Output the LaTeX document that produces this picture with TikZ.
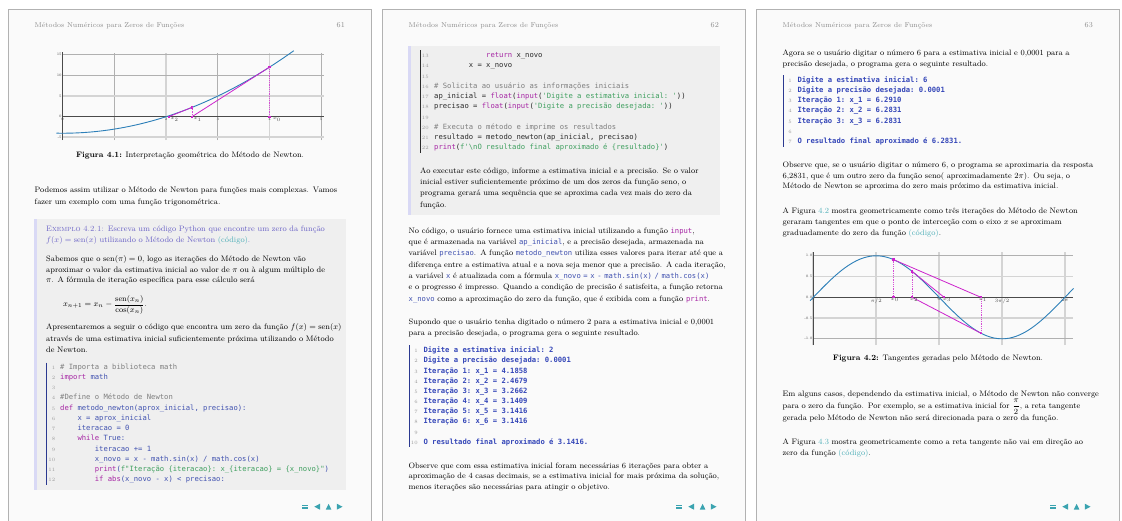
\documentclass[tikz,border=0pt]{standalone}
\usepackage{amsmath}
\usepackage{fontspec}
\IfFontExistsTF{DejaVu Sans Mono}{\newfontfamily\codefont{DejaVu Sans Mono}}{\newfontfamily\codefont{Liberation Mono}}

\definecolor{framegray}{HTML}{B2B2B2}
\definecolor{pagefill}{HTML}{FAFAFA}
\definecolor{boxfill}{HTML}{EFEFEF}
\definecolor{boxbar}{HTML}{D9D9F5}
\definecolor{headgray}{HTML}{8C8C8C}
\definecolor{linkteal}{HTML}{4FAFB8}
\definecolor{exblue}{HTML}{6A62C6}
\definecolor{kwcol}{HTML}{A626A4}
\definecolor{nmcol}{HTML}{4152B0}
\definecolor{strcol}{HTML}{3F9F5F}
\definecolor{comcol}{HTML}{7F7F7F}
\definecolor{codedark}{HTML}{2B2B2B}
\definecolor{outblue}{HTML}{3446B8}
\definecolor{barblue}{HTML}{2B3990}
\definecolor{lnogray}{HTML}{9A9A9A}
\definecolor{curveblue}{HTML}{2C7FB8}
\definecolor{magcol}{HTML}{CC22CC}
\definecolor{gridgray}{HTML}{B0B0B0}
\definecolor{gridlight}{HTML}{D4D4D4}
\definecolor{axisgray}{HTML}{4A4A4A}
\definecolor{navteal}{HTML}{3AA3B0}

\newcommand\pykw[1]{\textcolor{kwcol}{#1}}
\newcommand\pystr[1]{\textcolor{strcol}{#1}}
\newcommand\pycom[1]{\textcolor{comcol}{#1}}
\newcommand\tealtext[1]{\textcolor{linkteal}{#1}}
\newcommand\icode[2]{{\codefont\fontsize{7.2}{9}\selectfont\textcolor{#1}{#2}}}
% one justified line / one last line of a paragraph
\newcommand\fullln[1]{\hbox to\hsize{#1}}
\newcommand\lastln[1]{\hbox to\hsize{#1\hfil}}
\hbadness=10000
\hfuzz=30pt
\thickmuskip=5mu
\medmuskip=4mu

\begin{document}
\begin{tikzpicture}[x=1pt, y=-1pt,
  pageframe/.style={draw=framegray, line width=1.6pt, fill=pagefill},
  headtext/.style={inner sep=0pt, text=headgray, font=\fontsize{7}{8}\selectfont},
  pagenum/.style={inner sep=0pt, text=headgray, font=\fontsize{7.6}{8}\selectfont},
  para/.style={anchor=base west, inner sep=0pt, text width=310.5pt, font=\fontsize{7.9}{#1}\selectfont},
  boxpara/.style={para={#1}, text width=290.7pt},
  exbox/.style={fill=boxfill},
  exstripe/.style={fill=boxbar},
  codeln/.style={anchor=base west, inner sep=0pt, font=\codefont\fontsize{7.2}{9}\selectfont\frenchspacing},
  outln/.style={codeln, text=outblue, font=\codefont\bfseries\fontsize{7.2}{9}\selectfont\frenchspacing},
  lineno/.style={anchor=base east, inner sep=0pt, text=lnogray, font=\fontsize{5}{6}\selectfont},
  codebar/.style={line width=1.3pt},
  caption/.style={anchor=base, inner sep=0pt, font=\fontsize{7.9}{9}\selectfont},
  gridline/.style={draw=gridgray, line width=0.7pt},
  gridmajor/.style={draw=gridlight, line width=1.8pt},
  axisline/.style={draw=axisgray, line width=1.4pt},
  ticklabel/.style={inner sep=0.8pt, text=axisgray, font=\fontsize{3.6}{4}\selectfont},
  curve/.style={draw=curveblue, line width=0.9pt},
  tangent/.style={draw=magcol, line width=0.8pt},
  vguide/.style={draw=magcol!80, line width=0.8pt, densely dotted},
  dot/.style={rectangle, fill=magcol, inner sep=0pt, minimum size=2.2pt},
  navicon/.style={fill=navteal}
]
\path[use as bounding box, fill=white] (0,0) rectangle (1122,520);

% Pages, headers, navigation
\foreach \ox/\pg in {0/61,374/62,748/63}{
  \draw[pageframe] ({\ox+8.3},9.3) rectangle ({\ox+371.5},540);
  \node[headtext, anchor=base west] (head\pg) at ({\ox+34.5},27) {Métodos Numéricos para Zeros de Funções};
  \node[pagenum, anchor=base east] (num\pg) at ({\ox+345},27.5) {\pg};
  \fill[navicon] ({\ox+302},504.6) rectangle ({\ox+308},505.8);
  \fill[navicon] ({\ox+302},507.4) rectangle ({\ox+308},508.6);
  \fill[navicon] ({\ox+320},503.7) -- ({\ox+320},509.7) -- ({\ox+314.3},506.7) -- cycle;
  \fill[navicon] ({\ox+325.8},509.6) -- ({\ox+331.4},509.6) -- ({\ox+328.6},503.8) -- cycle;
  \fill[navicon] ({\ox+336.8},503.7) -- ({\ox+336.8},509.7) -- ({\ox+342.5},506.7) -- cycle;
}

% Page 61: plot of x^2-4
\begin{scope}[shift={(62.7pt,-116.7pt)}, x=51.7pt, y=4.13pt]
\foreach \gx in {1,3,5} \draw[gridline] (\gx,-5.7) -- (\gx,15.5);
\foreach \gx in {2,4} \draw[gridmajor] (\gx,-5.7) -- (\gx,15.5);
\foreach \gy in {10,15} \draw[gridline] (0,\gy) -- (5.05,\gy);
\foreach \gy in {-5,5} \draw[gridmajor] (0,\gy) -- (5.05,\gy);
\draw[axisline] (0,-5.7) -- (0,15.6);
\draw[axisline] (0,0) -- (5.05,0);
\foreach \gx [count=\i] in {0,...,5} \node[ticklabel, anchor=north] (fx\i) at (\gx,0) {\gx};
\foreach \gy [count=\i] in {-5,0,5,10,15} \node[ticklabel, anchor=east] (fy\i) at (0,\gy) {\gy};
\draw[curve, domain=-0.12:4.47, samples=80] plot (\x,{\x*\x-4});
\node[dot] (fa0) at (4,0) {};
\node[dot] (fb0) at (4,12) {};
\node[dot] (fa1) at (2.5,0) {};
\node[dot] (fb1) at (2.5,2.25) {};
\node[dot] (fa2) at (2.05,0) {};
\draw[vguide] (fa0.center) -- (fb0.center);
\draw[tangent] (fb0.center) -- (fa1.center);
\draw[vguide] (fa1.center) -- (fb1.center);
\draw[tangent] (fb1.center) -- (fa2.center);
\node[ticklabel, anchor=north west] (fl0) at ([xshift=2.5pt]fa0.center) {$x_0$};
\node[ticklabel, anchor=north west] (fl1) at ([xshift=0.8pt]fa1.center) {$x_1$};
\node[ticklabel, anchor=north west] (fl2) at ([xshift=1pt]fa2.center) {$x_2$};
\end{scope}
\node[caption] (cap41) at (190,157) {\textbf{Figura 4.1:} Interpretação geométrica do Método de Newton.};

% Page 61: text and example
\node[para=12] (podemos) at (34.5,192.7) {
\fullln{Podemos assim utilizar o Método de Newton para funções mais complexas. Vamos}
\lastln{fazer um exemplo com uma função trigonométrica.}};
\fill[exbox] (34.3,219.3) rectangle (345.7,490);
\fill[exstripe] (34.3,219.3) rectangle (37.2,490);
\node[boxpara=10.7, text=exblue] (extitle) at (46,231.3) {
\fullln{\textsc{Exemplo 4.2.1:} Escreva um código Python que encontre um zero da função}
\lastln{$f(x) = \operatorname{sen}(x)$ utilizando o Método de Newton \tealtext{(código)}.}};
\node[boxpara=10.7] (sabemos) at (46,261.3) {
\fullln{Sabemos que o $\operatorname{sen}(\pi) = 0$, logo as iterações do Método de Newton vão}
\fullln{aproximar o valor da estimativa inicial ao valor de $\pi$ ou à algum múltiplo de}
\lastln{$\pi$. A fórmula de iteração específica para esse cálculo será}};
\node[anchor=west, inner sep=0pt, font=\fontsize{7.9}{10}\selectfont] (iterfor) at (63,305)
  {$x_{n+1} = x_n - \dfrac{\operatorname{sen}(x_n)}{\cos(x_n)}.$};
\node[boxpara=11.7] (apresent) at (46,329.3) {
\fullln{Apresentaremos a seguir o código que encontra um zero da função $f(x) = \operatorname{sen}(x)$}
\fullln{através de uma estimativa inicial suficientemente próxima utilizando o Método}
\lastln{de Newton.}};
\draw[codebar, draw=barblue] (46.7,362.7) -- (46.7,485);
\foreach \txt [count=\k] in {
  {\pycom{\# Importa a biblioteca math}},
  {\pykw{import} math},
  {},
  {\pycom{\#Define o Método de Newton}},
  {\pykw{def} metodo\_newton(aprox\_inicial, precisao):},
  {\phantom{xxxx}x = aprox\_inicial},
  {\phantom{xxxx}iteracao = 0},
  {\phantom{xxxx}\pykw{while} True:},
  {\phantom{xxxxxxxx}iteracao += 1},
  {\phantom{xxxxxxxx}x\_novo = x - math.sin(x) / math.cos(x)},
  {\phantom{xxxxxxxx}\pykw{print}(\pystr{f"Iteração \{iteracao\}: x\_\{iteracao\} = \{x\_novo\}"})},
  {\phantom{xxxxxxxx}\pykw{if} \pykw{abs}(x\_novo - x) < precisao:}}{
  \node[lineno] (na\k) at (55.5,{369.3+10.22*(\k-1)}) {\k};
  \node[codeln, text=nmcol] (ca\k) at (60,{369.3+10.22*(\k-1)}) {\txt};
}

% Page 62
\fill[exbox] (408.3,45.7) rectangle (719.7,215);
\fill[exstripe] (408.3,45.7) rectangle (411.2,215);
\draw[codebar, draw=codedark] (420.7,50) -- (420.7,152.7);
\foreach \txt [count=\k from 13] in {
  {\phantom{xxxxxxxxxxxx}\pykw{return} x\_novo},
  {\phantom{xxxxxxxx}x = x\_novo},
  {},
  {\pycom{\# Solicita ao usuário as informações iniciais}},
  {ap\_inicial = \pykw{float}(\pykw{input}(\pystr{'Digite a estimativa inicial: '}))},
  {precisao = \pykw{float}(\pykw{input}(\pystr{'Digite a precisão desejada: '}))},
  {},
  {\pycom{\# Executa o método e imprime os resultados}},
  {resultado = metodo\_newton(ap\_inicial, precisao)},
  {\pykw{print}(\pystr{f'\textbackslash nO resultado final aproximado é \{resultado\}'})}}{
  \node[lineno] (nb\k) at (429,{57.7+10.22*(\k-13)}) {\k};
  \node[codeln, text=codedark] (cb\k) at (434,{57.7+10.22*(\k-13)}) {\txt};
}
\node[boxpara=11.1] (aoexec) at (420,173.7) {
\fullln{Ao executar este código, informe a estimativa inicial e a precisão. Se o valor}
\fullln{inicial estiver suficientemente próximo de um dos zeros da função seno, o}
\fullln{programa gerará uma sequência que se aproxima cada vez mais do zero da}
\lastln{função.}};
\node[para=11.33] (nocodigo) at (408.5,233.3) {
\fullln{No código, o usuário fornece uma estimativa inicial utilizando a função \icode{kwcol}{input},}
\fullln{que é armazenada na variável \icode{nmcol}{ap\_inicial}, e a precisão desejada, armazenada na}
\fullln{variável \icode{nmcol}{precisao}. A função \icode{nmcol}{metodo\_newton} utiliza esses valores para iterar até que a}
\fullln{diferença entre a estimativa atual e a nova seja menor que a precisão. A cada iteração,}
\fullln{a variável \icode{nmcol}{x} é atualizada com a fórmula \icode{nmcol}{x\_novo = x - math.sin(x) / math.cos(x)}}
\fullln{e o progresso é impresso. Quando a condição de precisão é satisfeita, a função retorna}
\lastln{\icode{nmcol}{x\_novo} como a aproximação do zero da função, que é exibida com a função \icode{kwcol}{print}.}};
\node[para=10.7] (supondo) at (408.5,324.7) {
\fullln{Supondo que o usuário tenha digitado o número 2 para a estimativa inicial e 0,0001}
\lastln{para a precisão desejada, o programa gera o seguinte resultado.}};
\draw[codebar, draw=barblue] (409.3,345) -- (409.3,447);
\foreach \txt [count=\k] in {
  {Digite a estimativa inicial: 2},
  {Digite a precisão desejada: 0.0001},
  {Iteração 1: x\_1 = 4.1858},
  {Iteração 2: x\_2 = 2.4679},
  {Iteração 3: x\_3 = 3.2662},
  {Iteração 4: x\_4 = 3.1409},
  {Iteração 5: x\_5 = 3.1416},
  {Iteração 6: x\_6 = 3.1416},
  {},
  {O resultado final aproximado é 3.1416.}}{
  \node[lineno] (ma\k) at (418,{352.7+10.18*(\k-1)}) {\k};
  \node[outln] (oa\k) at (423.3,{352.7+10.18*(\k-1)}) {\txt};
}
\node[para=10.5] (observe2) at (408.5,468) {
\fullln{Observe que com essa estimativa inicial foram necessárias 6 iterações para obter a}
\fullln{aproximação de 4 casas decimais, se a estimativa inicial for mais próxima da solução,}
\lastln{menos iterações são necessárias para atingir o objetivo.}};

% Page 63
\node[para=11] (agora) at (782.5,55.3) {
\fullln{Agora se o usuário digitar o número 6 para a estimativa inicial e 0,0001 para a}
\lastln{precisão desejada, o programa gera o seguinte resultado.}};
\draw[codebar, draw=barblue] (783.3,75) -- (783.3,146.7);
\foreach \txt [count=\k] in {
  {Digite a estimativa inicial: 6},
  {Digite a precisão desejada: 0.0001},
  {Iteração 1: x\_1 = 6.2910},
  {Iteração 2: x\_2 = 6.2831},
  {Iteração 3: x\_3 = 6.2831},
  {},
  {O resultado final aproximado é 6.2831.}}{
  \node[lineno] (mb\k) at (792,{82+10.28*(\k-1)}) {\k};
  \node[outln] (ob\k) at (797.3,{82+10.28*(\k-1)}) {\txt};
}
\node[para=10.5] (observe3) at (782.5,167.7) {
\fullln{Observe que, se o usuário digitar o número 6, o programa se aproximaria da resposta}
\fullln{6,2831, que é um outro zero da função seno( aproximadamente $2\pi$). Ou seja, o}
\lastln{Método de Newton se aproxima do zero mais próximo da estimativa inicial.}};
\node[para=11.2] (figura42) at (782.5,213) {
\fullln{A Figura \tealtext{4.2} mostra geometricamente como três iterações do Método de Newton}
\fullln{geraram tangentes em que o ponto de interceção com o eixo $x$ se aproximam}
\lastln{graduadamente do zero da função \tealtext{(código)}.}};

% Page 63: plot of sin(x)
\begin{scope}[shift={(813.3pt,-297.3pt)}, x=40.05pt, y=41.5pt]
\foreach \gx in {0,1.5708,3.1416,4.7124,6.2832} \draw[gridmajor] (\gx,-1.15) -- (\gx,1.1);
\foreach \gy in {-1,1} \draw[gridline] (0,\gy) -- (6.49,\gy);
\foreach \gy in {-0.5,0.5} \draw[gridmajor] (0,\gy) -- (6.49,\gy);
\draw[axisline] (0,0) -- (6.49,0);
\draw[axisline] (0,-1.15) -- (0,1.1);
\foreach \gx/\lab [count=\i] in {0/0,1.5708/{$\pi/2$},3.1416/{$\pi$},4.7124/{$3\pi/2$},6.2832/{$2\pi$}}
  \node[ticklabel, anchor=north] (sx\i) at (\gx,0) {\lab};
\foreach \gy/\lab [count=\i] in {-1/-1.0,-0.5/-0.5,0/0.0,0.5/0.5,1/1.0}
  \node[ticklabel, anchor=east] (sy\i) at (0,\gy) {\lab};
\draw[curve, domain=-0.08:6.5, samples=120] plot (\x,{sin(\x r)});
\node[dot] (sa0) at (2,0) {};
\node[dot] (sb0) at (2,0.9093) {};
\node[dot] (sa1) at (4.1858,0) {};
\node[dot] (sb1) at (4.1858,-0.8654) {};
\node[dot] (sa2) at (2.4679,0) {};
\node[dot] (sb2) at (2.4679,0.6235) {};
\node[dot] (sa3) at (3.2662,0) {};
\draw[vguide] (sa0.center) -- (sb0.center);
\draw[tangent] (sb0.center) -- (sa1.center);
\draw[vguide] (sa1.center) -- (sb1.center);
\draw[tangent] (sb1.center) -- (sa2.center);
\draw[vguide] (sa2.center) -- (sb2.center);
\draw[tangent] (sb2.center) -- (sa3.center);
\node[ticklabel, anchor=north] (sl0) at ([xshift=1.5pt]sa0.center) {$x_0$};
\node[ticklabel, anchor=north] (sl1) at ([xshift=2pt]sa1.center) {$x_1$};
\node[ticklabel, anchor=north] (sl2) at ([xshift=2pt]sa2.center) {$x_2$};
\node[ticklabel, anchor=north] (sl3) at ([xshift=3pt]sa3.center) {$x_3$};
\end{scope}
\node[caption] (cap42) at (938,360.3) {\textbf{Figura 4.2:} Tangentes geradas pelo Método de Newton.};

\node[para=12.3] (emalguns) at (782.5,396) {
\fullln{Em alguns casos, dependendo da estimativa inicial, o Método de Newton não converge}
\fullln{para o zero da função. Por exemplo, se a estimativa inicial for \smash{$\dfrac{\pi}{2}$}, a reta tangente}
\lastln{gerada pelo Método de Newton não será direcionada para o zero da função.}};
\node[para=11] (figura43) at (782.5,444.3) {
\fullln{A Figura \tealtext{4.3} mostra geometricamente como a reta tangente não vai em direção ao}
\lastln{zero da função \tealtext{(código)}.}};
\end{tikzpicture}
\end{document}
